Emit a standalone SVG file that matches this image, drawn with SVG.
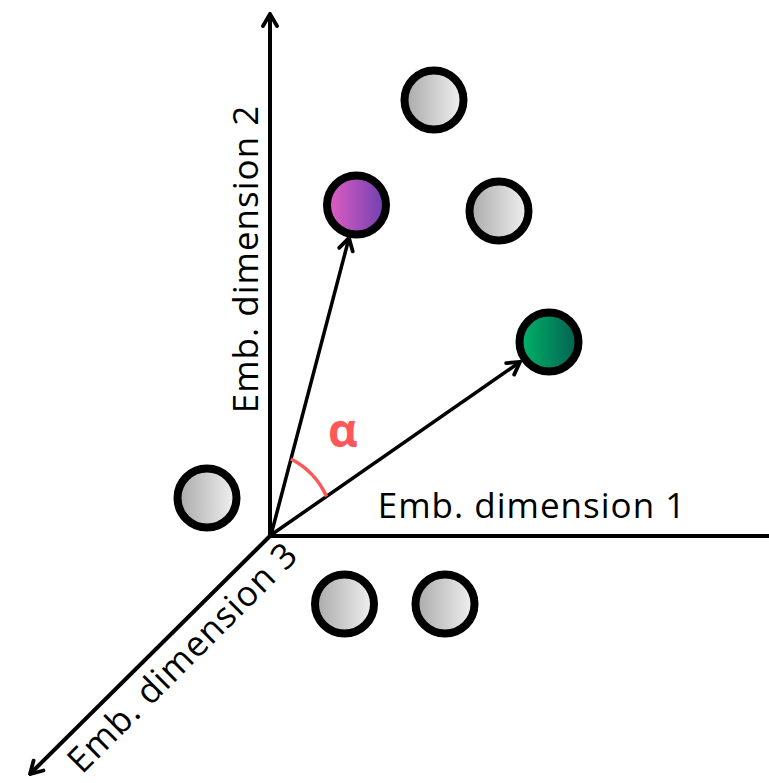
<svg xmlns="http://www.w3.org/2000/svg" width="769" height="783" viewBox="0 0 769 783">
<style>
.ax{stroke:#000;stroke-width:4;fill:none}
.vec{stroke:#000;stroke-width:3.5;fill:none}
.lbl{font-family:"Open Sans","Noto Sans",sans-serif;font-size:35px;letter-spacing:1px;fill:#000}
.pt{stroke:#000;stroke-width:8}
</style>
<defs>
<marker id="ah" viewBox="0 0 20 20" refX="18" refY="10" markerWidth="20" markerHeight="20" markerUnits="userSpaceOnUse" orient="auto">
<path d="M6,3 L18,10 L6,17" fill="none" stroke="#000" stroke-width="3.8" stroke-linecap="round" stroke-linejoin="miter"/>
</marker>
<linearGradient id="gGray" x1="0" y1="0" x2="1" y2="0"><stop offset="0" stop-color="#a9a9a9"/><stop offset="1" stop-color="#f2f2f2"/></linearGradient>
<linearGradient id="gPurple" x1="0" y1="0" x2="1" y2="0"><stop offset="0" stop-color="#e35fc4"/><stop offset="1" stop-color="#6d3fb0"/></linearGradient>
<linearGradient id="gGreen" x1="0" y1="0" x2="1" y2="0"><stop offset="0" stop-color="#00b46a"/><stop offset="1" stop-color="#036050"/></linearGradient>
</defs>
<g id="connectors">
<line class="ax" x1="270" y1="536" x2="769" y2="536"/>
<line class="ax" x1="270" y1="538" x2="270" y2="14" marker-end="url(#ah)"/>
<line class="ax" x1="271" y1="535" x2="30" y2="774" marker-end="url(#ah)"/>
<line class="vec" x1="271" y1="535" x2="349" y2="238" marker-end="url(#ah)"/>
<line class="vec" x1="271" y1="535" x2="520" y2="362" marker-end="url(#ah)"/>
<path d="M291,459 A78,78 0 0 1 326.5,496.5" fill="none" stroke="#ff5757" stroke-width="3.5"/>
</g>
<g id="labels">
<text class="lbl" x="532" y="518" text-anchor="middle">Emb. dimension 1</text>
<text class="lbl" transform="translate(258,259) rotate(-90)" text-anchor="middle">Emb. dimension 2</text>
<text class="lbl" transform="translate(191,666) rotate(-45)" text-anchor="middle">Emb. dimension 3</text>
<text x="343" y="447" text-anchor="middle" font-family="'Open Sans','Noto Sans',sans-serif" font-size="46" font-weight="bold" fill="#ff5757">α</text>
</g>
<g id="node-gray-1"><circle class="pt" cx="434" cy="100" r="29.5" fill="url(#gGray)"/></g>
<g id="node-gray-2"><circle class="pt" cx="499" cy="211" r="29.5" fill="url(#gGray)"/></g>
<g id="node-purple"><circle class="pt" cx="356.5" cy="205" r="29.5" fill="url(#gPurple)"/></g>
<g id="node-green"><circle class="pt" cx="549" cy="342" r="29.5" fill="url(#gGreen)"/></g>
<g id="node-gray-3"><circle class="pt" cx="207" cy="498" r="29.5" fill="url(#gGray)"/></g>
<g id="node-gray-4"><circle class="pt" cx="344.5" cy="604" r="29.5" fill="url(#gGray)"/></g>
<g id="node-gray-5"><circle class="pt" cx="445" cy="604" r="29.5" fill="url(#gGray)"/></g>
</svg>
